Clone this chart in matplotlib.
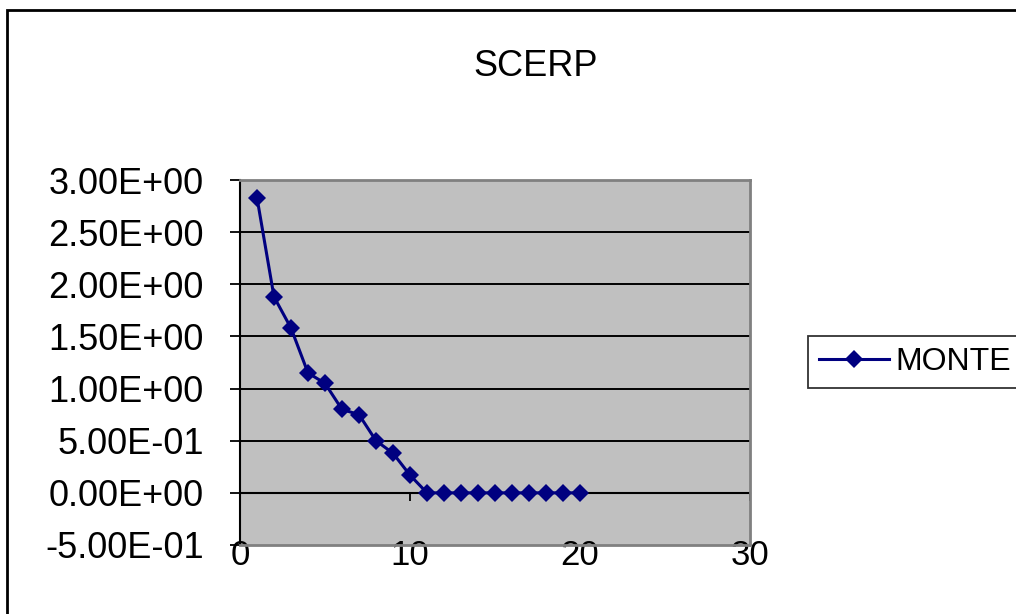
# Recreates the SCERP / MONTE chart (Excel-style line chart with diamond markers)

import matplotlib
matplotlib.use("Agg")
from matplotlib import pyplot as plt
from matplotlib.patches import Rectangle
from matplotlib.ticker import FormatStrFormatter

plt.rcParams['font.family'] = ['Liberation Sans', 'DejaVu Sans']

# Data
runs = [1, 2, 3, 4, 5, 6, 7, 8, 9, 10, 11, 12, 13, 14, 15, 16, 17, 18, 19, 20]
monte = [2.83, 1.88, 1.58, 1.15, 1.05, 0.80, 0.75, 0.50, 0.38, 0.17,
         0.0, 0.0, 0.0, 0.0, 0.0, 0.0, 0.0, 0.0, 0.0, 0.0]
x_ticks = [0, 10, 20, 30]
y_ticks = [-0.5, 0.0, 0.5, 1.0, 1.5, 2.0, 2.5, 3.0]
title = "SCERP"
series_name = "MONTE"

W, H = 1016, 614
fig = plt.figure(figsize=(W / 100, H / 100), dpi=100)

# Plot area in pixel terms, converted to figure fractions
left, top, right, bottom = 240, 180, 750, 545
ax = fig.add_axes([left / W, 1 - bottom / H, (right - left) / W, (bottom - top) / H])
ax.set_facecolor('#C0C0C0')

# Series
ax.plot(runs, monte, color='#000080', linewidth=2.2, marker='D',
        markersize=9, markeredgewidth=0, label=series_name, zorder=4)

ax.set_xlim(x_ticks[0], x_ticks[-1])
ax.set_ylim(y_ticks[0], y_ticks[-1])
ax.set_yticks(y_ticks)
ax.set_xticks(x_ticks)
ax.yaxis.set_major_formatter(FormatStrFormatter('%.2E'))

# Horizontal gridlines, skipping the ones that sit on the plot border
ax.yaxis.grid(True, color='black', linewidth=1.4)
ax.set_axisbelow(True)
gl = ax.yaxis.get_gridlines()
gl[0].set_visible(False)
gl[-1].set_visible(False)

# Borders: gray frame, black value axis
for side in ['top', 'right', 'bottom']:
    ax.spines[side].set_color('#808080')
    ax.spines[side].set_linewidth(2)
ax.spines['left'].set_color('black')
ax.spines['left'].set_linewidth(1.5)

ax.tick_params(axis='y', direction='out', length=7, width=1.3,
               labelsize=26, pad=19, colors='black')
ax.tick_params(axis='x', length=0, labelsize=25, pad=-4)

# Category axis crosses at y = 0
zero_pos = (0 - y_ticks[0]) / (y_ticks[-1] - y_ticks[0])
sec = ax.secondary_xaxis(zero_pos)
sec.set_xticks(x_ticks)
sec.tick_params(direction='out', length=6, width=1.3, labelbottom=False)
sec.spines['bottom'].set_color('black')
sec.spines['bottom'].set_linewidth(1.5)

# Title
fig.text(536 / W, 1 - 66 / H, title, ha='center', va='center', fontsize=26)

# Legend box on the right
leg = fig.legend(loc='center left', bbox_to_anchor=(808 / W, 1 - 362 / H),
                 fontsize=23, frameon=True, fancybox=False, borderpad=0.35,
                 handlelength=2.2, handletextpad=0.2, borderaxespad=0)
leg.get_frame().set_edgecolor('black')
leg.get_frame().set_linewidth(1.3)

# Outer chart border (runs off the right and bottom edges)
fig.patches.append(Rectangle((7 / W, -0.1), 1.2, 1 - 10 / H + 0.1,
                             transform=fig.transFigure, fill=False,
                             edgecolor='black', linewidth=2))

plt.savefig("out.png", dpi=100)
plt.close()
